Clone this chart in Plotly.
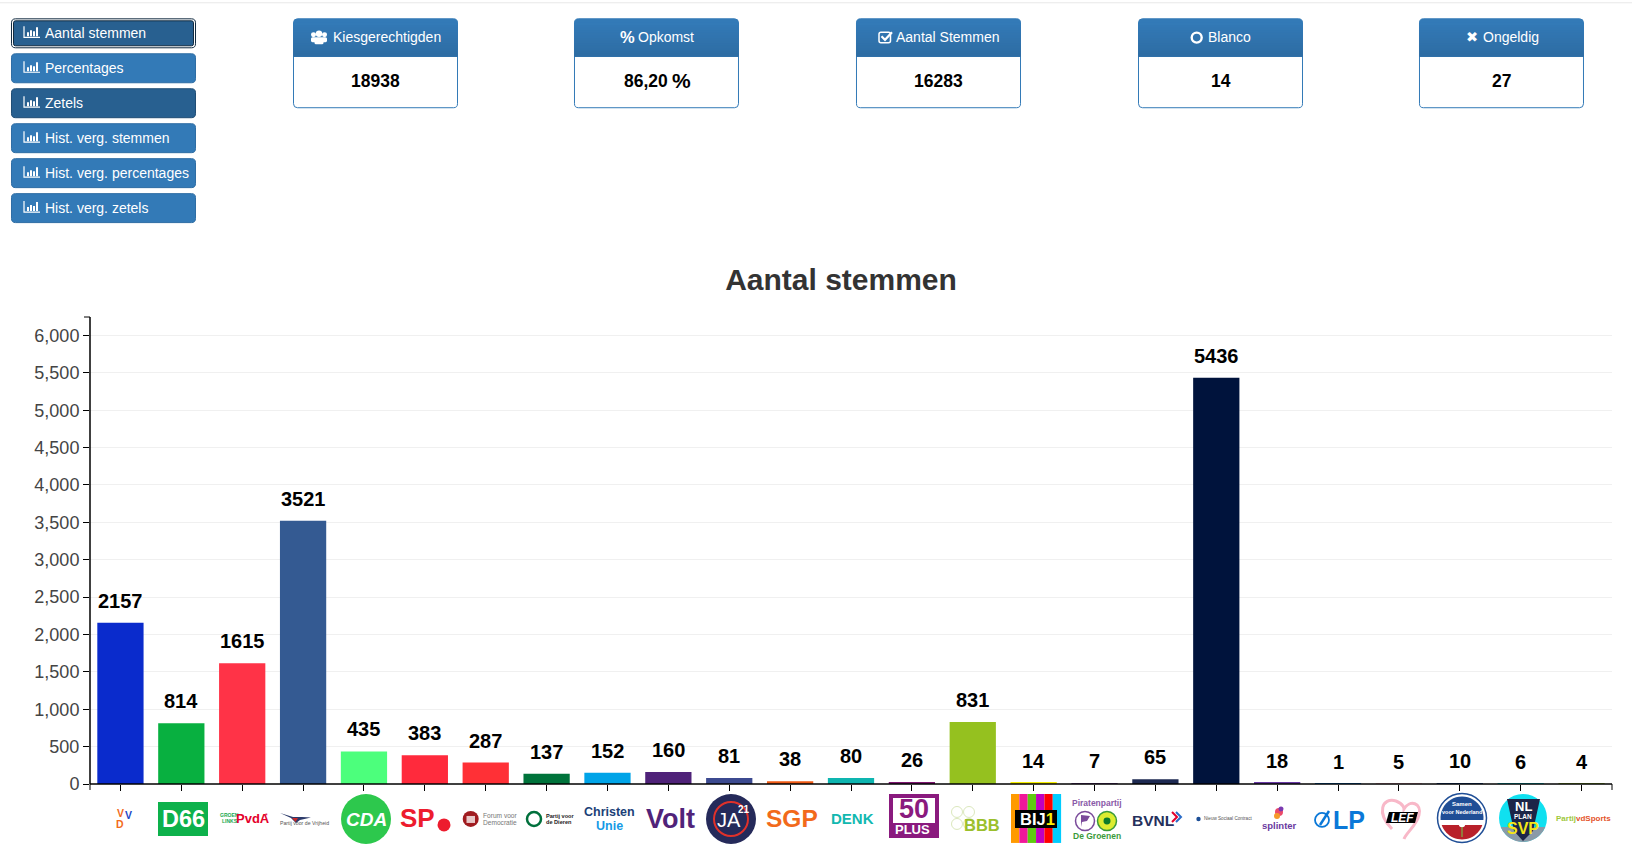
import math
import plotly.graph_objects as go

parties = ["VVD", "D66", "GroenLinks-PvdA", "PVV", "CDA", "SP", "Forum voor Democratie",
           "Partij voor de Dieren", "ChristenUnie", "Volt", "JA21", "SGP", "DENK", "50PLUS",
           "BBB", "BIJ1", "Piratenpartij - De Groenen", "BVNL", "Nieuw Sociaal Contract",
           "Splinter", "LP", "LEF", "Samen voor Nederland", "NL Plan SVP", "PartijvdSport"]
votes = [2157, 814, 1615, 3521, 435, 383, 287, 137, 152, 160, 81, 38, 80, 26, 831, 14, 7, 65,
         5436, 18, 1, 5, 10, 6, 4]
bar_colors = ["#0a2bcc", "#08b040", "#ff3347", "#345a92", "#4cff7c", "#ff2a3c", "#ff3036",
              "#00733b", "#00a4e8", "#4f2279", "#3c4a90", "#ef5a14", "#0eb5b0", "#7d1670",
              "#95c11f", "#f5ee00", "#7a4a9a", "#1e2a52", "#00133c", "#6a3aa5", "#0a78d8",
              "#f8b8c8", "#1f4e96", "#10e0f0", "#a0c83c"]
y_ticks = [0, 500, 1000, 1500, 2000, 2500, 3000, 3500, 4000, 4500, 5000, 5500, 6000]
button_labels = ["Aantal stemmen", "Percentages", "Zetels", "Hist. verg. stemmen",
                 "Hist. verg. percentages", "Hist. verg. zetels"]
card_titles = ["Kiesgerechtigden", "Opkomst", "Aantal Stemmen", "Blanco", "Ongeldig"]
card_values = ["18938", "86,20", "16283", "14", "27"]
chart_title = "Aantal stemmen"

W, H = 1632, 848
L, R, T0, B = 90.0, 1612.0, 317.0, 784.5
FONT = "Liberation Sans, Arial, sans-serif"
OFF = 0.0

def px(x): return (x - L) / (R - L)
def py(y): return (B - (y + OFF)) / (B - T0)
def pt(x, y): return f"{px(x):.5f},{py(y):.5f}"

shapes, notes = [], []

def text(s, x, y, size, color="#000", bold=False, anchor="center", italic=False, angle=0, font=FONT):
    if bold: s = f"<b>{s}</b>"
    if italic: s = f"<i>{s}</i>"
    notes.append(dict(text=s, xref="paper", yref="paper", x=px(x), y=py(y), xanchor=anchor,
                      yanchor="middle", showarrow=False, textangle=angle, borderpad=0,
                      font=dict(size=size, color=color, family=font)))

def path(d, fill=None, line=None, lw=0):
    s = dict(type="path", xref="paper", yref="paper", path=d, line=dict(width=lw, color=line or "rgba(0,0,0,0)"))
    if fill: s["fillcolor"] = fill
    shapes.append(s)

def poly(pts, fill=None, line=None, lw=0, close=True):
    d = "M" + " L".join(pt(*p) for p in pts) + (" Z" if close else "")
    path(d, fill, line, lw)

def rect(x0, y0, x1, y1, fill=None, line=None, lw=0):
    s = dict(type="rect", xref="paper", yref="paper", x0=px(x0), x1=px(x1), y0=py(y0), y1=py(y1),
             line=dict(width=lw, color=line or "rgba(0,0,0,0)"))
    if fill: s["fillcolor"] = fill
    shapes.append(s)

def circle(cx, cy, r, fill=None, line=None, lw=0, ry=None):
    ry = ry or r
    s = dict(type="circle", xref="paper", yref="paper", x0=px(cx - r), x1=px(cx + r), y0=py(cy + ry), y1=py(cy - ry),
             line=dict(width=lw, color=line or "rgba(0,0,0,0)"))
    if fill: s["fillcolor"] = fill
    shapes.append(s)

def rrect(x0, y0, x1, y1, r, fill=None, line=None, lw=0, bottom=True):
    rb = r if bottom else 0
    d = (f"M{pt(x0 + r, y0)} L{pt(x1 - r, y0)} Q{pt(x1, y0)} {pt(x1, y0 + r)} L{pt(x1, y1 - rb)} "
         f"Q{pt(x1, y1)} {pt(x1 - rb, y1)} L{pt(x0 + rb, y1)} Q{pt(x0, y1)} {pt(x0, y1 - rb)} "
         f"L{pt(x0, y0 + r)} Q{pt(x0, y0)} {pt(x0 + r, y0)} Z")
    path(d, fill, line, lw)

def segment(cx, cy, r, chord_y, top=True, fill=None):
    a = math.asin(max(-1, min(1, (chord_y - cy) / r)))
    n = 24
    if top:
        start, end = math.pi - a, 2 * math.pi + a
    else:
        start, end = a, math.pi - a
    pts = [(cx + r * math.cos(start + (end - start) * i / n), cy + r * math.sin(start + (end - start) * i / n)) for i in range(n + 1)]
    poly(pts, fill)

# top rule
rect(0, 2, W, 3, fill="#e8e8e8")

# buttons
def bar_icon(x, y):
    poly([(x, y - 6), (x, y + 5), (x + 16, y + 5)], line="#fff", lw=1.2, close=False)
    for dx, h in zip((3, 6, 9, 12), (4, 6, 5, 9)):
        rect(x + dx, y + 4 - h, x + dx + 2, y + 4, fill="#fff")

for i, lab in enumerate(button_labels):
    y0 = 18 + 35 * i
    if i == 0:
        rrect(11.5, y0 + .5, 195.5, y0 + 29.5, 4, fill="#fff", line="#122b40", lw=1)
        rrect(13.5, y0 + 2.5, 193.5, y0 + 27.5, 2, fill="#286090", line="#122b40", lw=1)
    else:
        col = "#286090" if i == 2 else "#337ab7"
        rrect(11.5, y0 + .5, 195.5, y0 + 29.5, 4, fill=col, line="#204d74" if i == 2 else "#2e6da4", lw=1)
    bar_icon(24, y0 + 14)
    text(lab, 44, y0 + 15, 14, "#fff", anchor="left")

# cards
card_x = [293, 574, 856, 1138, 1419]
for i, (x0, title, val) in enumerate(zip(card_x, card_titles, card_values)):
    x1 = x0 + 165
    rrect(x0 + .5, 18.5, x1 - .5, 107.5, 4, fill="#fff", line="#337ab7", lw=1)
    rrect(x0 + .5, 18.5, x1 - .5, 30, 4, fill="#337ab7", bottom=False)
    n = 13
    for k in range(n):
        t = k / (n - 1)
        c = f"rgb({int(51 - 5 * t)},{int(122 - 13 * t)},{int(183 - 19 * t)})"
        rect(x0 + .5, 22 + k * 34 / n, x1 - .5, 56, fill=c)
    cx = x0 + 82.5
    if i == 1:
        text(val, 646, 81, 17.5, "#000", bold=True)
        text("%", 681.5, 80.5, 21, "#000", bold=True)
    else:
        text(val, cx, 81, 17.5, "#000", bold=True)

# card header texts and icons
text(card_titles[0], 331.7, 36.5, 14, "#fff", anchor="left")
for cxx, cyy, r in ((319, 33.5, 3.2), (313.5, 34.5, 2.5), (324.5, 34.5, 2.5)):
    circle(cxx, cyy, r, fill="#fff")
rrect(311, 37, 327, 42, 1.5, fill="#fff")
rrect(314.5, 38, 323.5, 44, 1.5, fill="#fff")

text("%", 627, 36.5, 16.5, "#fff", bold=True)
text(card_titles[1], 636.5, 36.5, 14, "#fff", anchor="left")

rrect(879, 32, 890.5, 42.5, 2, line="#fff", lw=1.5)
poly([(881.5, 36), (885, 39.5), (892, 32)], line="#fff", lw=2.2, close=False)
text(card_titles[2], 894.5, 36.5, 14, "#fff", anchor="left")

circle(1196.7, 37.3, 5, line="#fff", lw=2.4)
text(card_titles[3], 1206.5, 36.5, 14, "#fff", anchor="left")

text("\u2716", 1472, 36.5, 14.5, "#fff", font="DejaVu Sans")
text(card_titles[4], 1481.5, 36.5, 14, "#fff", anchor="left")

# party logos
OFF = 1.5
text("V", 120, 812, 10.5, "#f26a1b", bold=True)
text("V", 128, 814, 10.5, "#1f47c8", bold=True)
text("D", 120, 823, 10.5, "#f26a1b", bold=True)

rect(158, 801, 208, 835, fill="#0db14b")
text("D66", 183, 818.5, 23.5, "#fff", bold=True)

text("GROEN", 229.5, 814, 5, "#18a850", bold=True)
text("LINKS", 229.5, 820.5, 5, "#18a850", bold=True)
text("PvdA", 253, 818, 13, "#e4002b", bold=True)
text("*", 266, 815, 7, "#e4002b")

poly([(280, 812), (293, 816), (302, 816), (311, 816.5), (300, 819), (296, 822), (291, 817)], fill="#2b3a6a")
poly([(292, 817), (298, 817), (295.5, 821)], fill="#c8282a")
text("Partij voor de Vrijheid", 330, 822, 5.2, "#555", anchor="right")

circle(366, 818, 25, fill="#2dc84d")
text("CDA", 366, 818.5, 19, "#fff", bold=True, italic=True)

text("SP", 417.5, 817.5, 26, "#ed1c2e", bold=True)
circle(444, 824, 6.5, fill="#ed1c2e")

circle(470.7, 818, 8, fill="#a01c20")
rect(466.5, 815, 475, 822, fill="#e8c8c8")
text("Forum voor", 482, 815, 6.6, "#777", anchor="left")
text("Democratie", 482, 821.5, 6.6, "#777", anchor="left")

circle(534, 818, 7, line="#00703c", lw=2.5)
text("Partij voor", 545, 815, 5.6, "#222", bold=True, anchor="left")
text("de Dieren", 545, 821.5, 5.6, "#222", bold=True, anchor="left")

text("Christen", 609, 811.5, 12.5, "#1c3f78", bold=True)
text("Unie", 609, 825.5, 12.5, "#159ae6", bold=True)

text("Volt", 670, 818, 27, "#502379", bold=True)

circle(731, 818, 25, fill="#252a5a")
circle(731, 818, 17, line="#e0312a", lw=2)
text("JA", 729, 819.5, 20, "#fff")
text("21", 744, 809, 10, "#fff", bold=True)

text("SGP", 792, 818, 24.5, "#f26a1b", bold=True)
text("DENK", 853, 818, 15, "#12b8b0", bold=True)

rect(889, 793, 939, 837, fill="#8a1a7e")
rect(893, 797, 935, 822, fill="#fff")
text("50", 913.5, 808.5, 27, "#8a1a7e", bold=True)
text("PLUS", 913, 829, 13, "#fff", bold=True)

for dx, dy in ((-6, -6), (6, -6), (-6, 6), (6, 6)):
    circle(963 + dx, 817 + dy, 5.5, line="#dbe8bd", lw=1)
text("BBB", 982, 824, 16.5, "#9bbf2c", bold=True)

stripe_cols = ["#ff9a00", "#f0189a", "#5ecb10", "#c000c0", "#ff0000", "#00ccff"]
for k, c in enumerate(stripe_cols):
    rect(1011 + k * 8.35, 793, 1011 + (k + 1) * 8.35, 842, fill=c)
rect(1015, 809, 1057, 827, fill="#000")
text('BIJ<span style="color:#ffee00">1</span>', 1037, 818, 16.5, "#fff", bold=True)

text("Piratenpartij", 1097, 802, 8.5, "#8a5aa8", bold=True)
circle(1085, 820, 9.5, fill="#fff", line="#7a4a9a", lw=1.5)
poly([(1081, 826), (1081, 814), (1090, 815), (1087, 820), (1082, 821)], fill="#7a4a9a")
circle(1107, 820, 9.5, fill="#dcec30", line="#3a9a3a", lw=1.5)
circle(1107, 820, 3.5, fill="#0a7a2a")
text("De Groenen", 1097, 835, 8.5, "#3a9a3a", bold=True)

text("BVNL", 1152.5, 820, 15.5, "#25305c", bold=True)
poly([(1172, 811), (1177, 816), (1172, 821)], line="#e4002b", lw=2, close=False)
poly([(1176, 811), (1181, 816), (1176, 821)], line="#2a6cc8", lw=2, close=False)

circle(1198.5, 818, 2.2, fill="#1c4e96")
text("Nieuw Sociaal Contract", 1203, 818, 4.6, "#555", anchor="left")

circle(1279, 811, 4, fill="#ec4a6a")
circle(1277, 815, 3, fill="#f59a2a")
circle(1281, 808, 2.5, fill="#7a3ab0")
text("splinter", 1279, 825, 9.5, "#6a3aa0", bold=True)

circle(1322, 819, 7, line="#0a78d8", lw=1.8)
poly([(1320, 824), (1329, 810)], line="#0a78d8", lw=2.5, close=False)
text("LP", 1349, 819, 25, "#0a78d8", bold=True)

path(f"M{pt(1392, 828)} C{pt(1376, 812)} {pt(1382, 796)} {pt(1396, 800)} C{pt(1404, 803)} {pt(1404, 808)} {pt(1404, 808)} "
     f"C{pt(1410, 798)} {pt(1422, 802)} {pt(1419, 814)} C{pt(1417, 824)} {pt(1406, 832)} {pt(1404, 838)}",
     line="#f8b8c8", lw=3)
poly([(1389, 811), (1418, 811), (1415, 822), (1386, 822)], fill="#000")
text("LEF", 1402, 817, 12, "#fff", bold=True, italic=True)

circle(1462, 817, 24.5, fill="#fff", line="#1f4e96", lw=1.5)
segment(1462, 817, 21.5, 819, top=True, fill="#1f4e96")
segment(1462, 817, 21.5, 824, top=False, fill="#b8202a")
text("Samen", 1462, 803, 6, "#fff", bold=True)
text("voor Nederland", 1462, 811, 5.5, "#fff", bold=True)
circle(1462, 823, 3.2, fill="#fff")
poly([(1462, 826), (1462, 836)], line="#7ab648", lw=1.2, close=False)

circle(1523, 817, 24, fill="#10e0f0")
segment(1523, 817, 24, 826, top=False, fill="#8a9aa8")
poly([(1507, 798), (1540, 798), (1533, 830), (1523, 840), (1514, 830)], fill="#1c2548")
text("NL", 1523, 806, 13, "#fff", bold=True)
text("PLAN", 1523, 816, 6.5, "#fff", bold=True)
text("SVP", 1523, 828, 16, "#f5e616", bold=True)

text('Partij<span style="color:#e4532a">vdSports</span>', 1583, 818, 8, "#a0c83c", bold=True)
OFF = 0.0

# value labels, placed from the data through the chart's own scales
for name, v in zip(parties, votes):
    notes.append(dict(x=name, y=v, xref="x", yref="y", text=f"<b>{v}</b>", showarrow=False,
                      yanchor="middle", yshift=22, font=dict(size=20, color="#000", family=FONT)))

# axis lines and axis-end ticks
shapes.append(dict(type="line", xref="paper", yref="paper", x0=0, x1=0, y0=0, y1=1, line=dict(color="#000", width=1.5)))
shapes.append(dict(type="line", xref="paper", yref="paper", x0=0, x1=1, y0=0, y1=0, line=dict(color="#000", width=1.5)))
for x in (0, 1):
    shapes.append(dict(type="line", xref="paper", yref="paper", x0=x, x1=x, y0=0, y1=py(B + 6),
                       line=dict(color="#000", width=1)))
shapes.append(dict(type="line", xref="paper", yref="paper", x0=px(L - 6), x1=0, y0=1, y1=1,
                   line=dict(color="#000", width=1)))

fig = go.Figure(go.Bar(x=parties, y=votes, marker=dict(color=bar_colors, line=dict(width=0)),
                       hoverinfo="x+y"))
fig.update_layout(
    width=W, height=H, autosize=False,
    margin=dict(l=L, r=W - R, t=T0, b=H - B, pad=0),
    paper_bgcolor="#fff", plot_bgcolor="#fff", showlegend=False, bargap=0.24,
    font=dict(family=FONT),
    title=dict(text=f"<b>{chart_title}</b>", xref="container", x=841 / W, xanchor="center",
               yref="container", y=1 - 279 / H, yanchor="middle",
               font=dict(size=30, color="#333", family=FONT)),
    shapes=shapes, annotations=notes,
    xaxis=dict(type="category", categoryorder="array", categoryarray=parties,
               range=[-0.5, len(parties) - 0.5], showgrid=False, showticklabels=False,
               ticks="outside", ticklen=6, tickcolor="#000", tickwidth=1,
               tickmode="array", tickvals=parties,
               showline=False, zeroline=False),
    yaxis=dict(range=[0, 6247], tickmode="array", tickvals=y_ticks, tickformat=",",
               ticks="outside", ticklen=6, tickcolor="#000", tickwidth=1,
               tickfont=dict(size=18, color="#444", family=FONT),
               showline=False, zeroline=False,
               showgrid=True, gridcolor="#f0f0f0", gridwidth=1),
)
fig.write_html("out.html", config=dict(displayModeBar=False),
               post_script="document.body.style.margin='0';document.body.style.overflow='hidden';")
